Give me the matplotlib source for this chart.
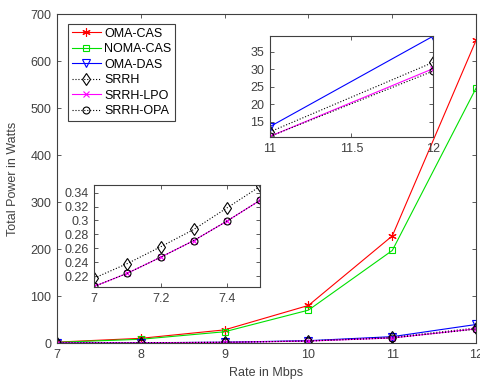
import matplotlib
matplotlib.use("Agg")
import matplotlib.pyplot as plt

plt.rcParams["font.family"] = ["Liberation Sans", "DejaVu Sans"]

# ── data ───────────────────────────────────────────────────────────────────────
rate = [7, 8, 9, 10, 11, 12]
oma_cas  = [2.0, 10.0, 28.0, 80.0, 228.0, 645.0]
noma_cas = [1.5, 8.0, 24.0, 70.0, 197.0, 543.0]
oma_das  = [0.24, 0.65, 1.7, 5.0, 13.6, 39.5]
srrh     = [0.22, 0.60, 1.6, 4.6, 12.1, 32.0]
srrh_lpo = [0.205, 0.55, 1.45, 4.2, 10.8, 30.2]
srrh_opa = [0.205, 0.55, 1.45, 4.2, 10.8, 29.5]

rate_fine     = [7.0, 7.1, 7.2, 7.3, 7.4, 7.5]
srrh_fine     = [0.217, 0.238, 0.262, 0.287, 0.318, 0.349]
srrh_lpo_fine = [0.205, 0.224, 0.247, 0.271, 0.299, 0.329]
srrh_opa_fine = [0.205, 0.224, 0.247, 0.271, 0.299, 0.329]

GREY = "#404040"
ASTER = (6, 2, 0)
FS = 9


def style(ax, fs=FS):
    ax.tick_params(direction="in", top=True, right=True, labelsize=fs,
                   colors=GREY, length=3, width=0.6)
    ax.tick_params(axis="x", pad=4.5)
    ax.tick_params(axis="y", pad=4)
    for s in ax.spines.values():
        s.set_color(GREY); s.set_linewidth(0.8)


fig = plt.figure(figsize=(4.81, 3.82), dpi=100)
ax = fig.add_axes([0.118, 0.102, 0.872, 0.861])

ax.plot(rate, oma_cas, color="red", lw=0.8, marker=ASTER, ms=6, mew=0.8, label="OMA-CAS")
ax.plot(rate, noma_cas, color="#00e000", lw=0.8, marker="s", ms=5, mfc="none", mew=0.8, label="NOMA-CAS")
ax.plot(rate, oma_das, color="blue", lw=0.8, marker="v", ms=6, mfc="none", mew=0.8, label="OMA-DAS")
ax.plot(rate, srrh, color="black", lw=0.8, ls=":", marker="d", ms=6, mfc="none", mew=0.8, label="SRRH")
ax.plot(rate, srrh_lpo, color="magenta", lw=0.8, marker="x", ms=5, mew=0.8, label="SRRH-LPO")
ax.plot(rate, srrh_opa, color="black", lw=0.8, ls=":", marker="o", ms=5, mfc="none", mew=0.8, label="SRRH-OPA")

ax.set_xlim(7, 12)
ax.set_ylim(0, 700)
ax.set_xticks(rate)
ax.set_yticks(range(0, 701, 100))
ax.set_xlabel("Rate in Mbps", fontsize=FS, color=GREY, labelpad=4)
ax.set_ylabel("Total Power in Watts", fontsize=FS, color=GREY, labelpad=8)
style(ax)
leg = ax.legend(loc="upper left", fontsize=FS, handlelength=2.3, handletextpad=0.3,
                labelspacing=0.28, borderpad=0.3, borderaxespad=0, fancybox=False,
                edgecolor=GREY, framealpha=1, bbox_to_anchor=(0.027, 0.97))
leg.get_frame().set_linewidth(0.8)

# ── inset: 11-12 Mbps ──────────────────────────────────────────────────────────
ax1 = fig.add_axes([0.561, 0.641, 0.339, 0.264])
ax1.plot(rate[-2:], oma_das[-2:], color="blue", lw=0.8, marker="v", ms=6, mfc="none", mew=0.8)
ax1.plot(rate[-2:], srrh[-2:], color="black", lw=0.8, ls=":", marker="d", ms=6, mfc="none", mew=0.8)
ax1.plot(rate[-2:], srrh_lpo[-2:], color="magenta", lw=0.8, marker="x", ms=5, mew=0.8)
ax1.plot(rate[-2:], srrh_opa[-2:], color="black", lw=0.8, ls=":", marker="o", ms=5, mfc="none", mew=0.8)
ax1.set_xlim(11, 12)
ax1.set_ylim(10.6, 39.5)
ax1.set_xticks([11, 11.5, 12])
ax1.set_xticklabels(["11", "11.5", "12"])
ax1.set_yticks(range(15, 36, 5))
style(ax1)

# ── inset: 7-7.5 Mbps ──────────────────────────────────────────────────────────
ax2 = fig.add_axes([0.196, 0.2495, 0.3445, 0.266])
ax2.plot(rate_fine, srrh_fine, color="black", lw=0.8, ls=":", marker="d", ms=6, mfc="none", mew=0.8)
ax2.plot(rate_fine, srrh_lpo_fine, color="magenta", lw=0.8, marker="x", ms=5, mew=0.8)
ax2.plot(rate_fine, srrh_opa_fine, color="black", lw=0.8, ls=":", marker="o", ms=5, mfc="none", mew=0.8)
ax2.set_xlim(7, 7.5)
ax2.set_ylim(0.2046, 0.351)
ax2.set_xticks([7, 7.2, 7.4])
ax2.set_xticklabels(["7", "7.2", "7.4"])
ax2.set_yticks([0.22, 0.24, 0.26, 0.28, 0.3, 0.32, 0.34])
ax2.set_yticklabels(["0.22", "0.24", "0.26", "0.28", "0.3", "0.32", "0.34"])
style(ax2)

fig.savefig("out.png", dpi=100)
